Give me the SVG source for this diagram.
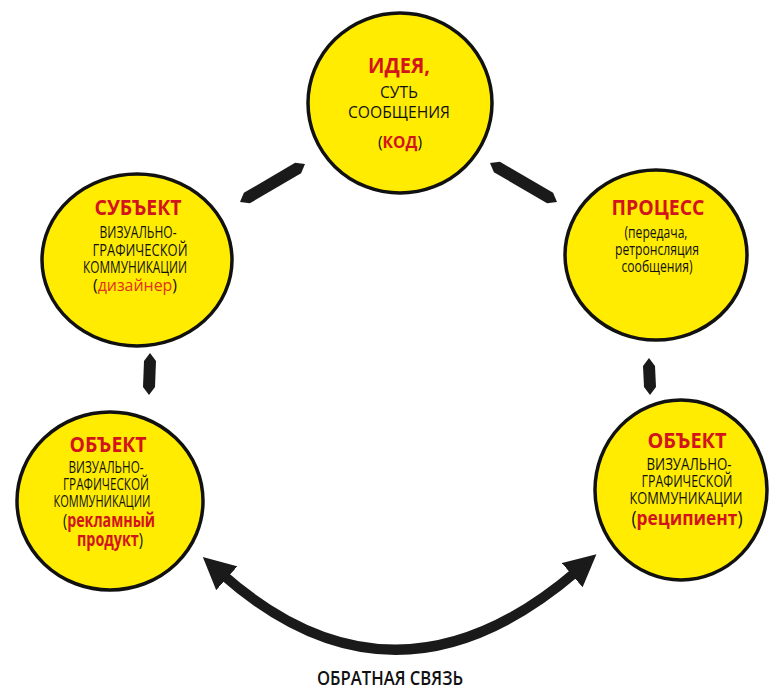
<svg xmlns="http://www.w3.org/2000/svg" width="771" height="692" viewBox="0 0 771 692">
<defs>
<style>
.c{fill:#FFEC00;stroke:#111;stroke-width:3.5}
.t{font-family:"Open Sans","Liberation Sans",sans-serif;text-anchor:middle;fill:#111}
.h{font-weight:bold;fill:#D2141C;font-size:21px}
.b{font-size:15.5px}
.r{fill:#D2141C;font-weight:bold}
.r2{fill:#E0321E}
.bar{fill:#1a1a1a}
</style>
<marker id="ah" viewBox="0 0 10 10" refX="2" refY="5" markerWidth="3.2" markerHeight="3.2" orient="auto-start-reverse">
<path d="M0,0 L10,5 L0,10 z" fill="#1a1a1a"/>
</marker>
</defs>
<rect width="771" height="692" fill="#fff"/>
<g id="connectors">
<polygon class="bar" points="240,202 249.9,203.2 301.1,173.2 305,164 295.1,162.8 243.9,192.8"/>
<polygon class="bar" points="490,163 493.9,172.2 547.1,203.2 557,202 553.1,192.8 499.9,161.8"/>
<polygon class="bar" points="150,353 156,361 155,387 149,395 143,387 144,361"/>
<polygon class="bar" points="649,358 655,366 656,387 650,395 644,387 643,366"/>
<path d="M222,574 Q395,727 577,571" fill="none" stroke="#1a1a1a" stroke-width="10" marker-start="url(#ah)" marker-end="url(#ah)"/>
</g>
<g id="idea">
<ellipse class="c" cx="400" cy="103" rx="92" ry="90"/>
<text class="t h" x="399" y="73" textLength="62" lengthAdjust="spacingAndGlyphs">ИДЕЯ,</text>
<text class="t b" x="399" y="98" textLength="38" lengthAdjust="spacingAndGlyphs">СУТЬ</text>
<text class="t b" x="399" y="118" textLength="102" lengthAdjust="spacingAndGlyphs">СООБЩЕНИЯ</text>
<text class="t b" x="400" y="148" textLength="44" lengthAdjust="spacingAndGlyphs">(<tspan class="r">КОД</tspan>)</text>
</g>
<g id="subject">
<ellipse class="c" cx="137" cy="260" rx="95" ry="86"/>
<text class="t h" x="138" y="215" textLength="87" lengthAdjust="spacingAndGlyphs">СУБЪЕКТ</text>
<text class="t b" x="138" y="238" textLength="77" lengthAdjust="spacingAndGlyphs">ВИЗУАЛЬНО-</text>
<text class="t b" x="140" y="256" textLength="95" lengthAdjust="spacingAndGlyphs">ГРАФИЧЕСКОЙ</text>
<text class="t b" x="135" y="273" textLength="104" lengthAdjust="spacingAndGlyphs">КОММУНИКАЦИИ</text>
<text class="t b" x="135" y="291" textLength="84" lengthAdjust="spacingAndGlyphs">(<tspan class="r2">дизайнер</tspan>)</text>
</g>
<g id="process">
<ellipse class="c" cx="656" cy="255" rx="91" ry="85"/>
<text class="t h" x="658" y="215" textLength="93" lengthAdjust="spacingAndGlyphs">ПРОЦЕСС</text>
<text class="t b" x="656" y="238" textLength="63" lengthAdjust="spacingAndGlyphs">(передача,</text>
<text class="t b" x="657" y="255" textLength="84" lengthAdjust="spacingAndGlyphs">ретронсляция</text>
<text class="t b" x="657" y="272" textLength="71" lengthAdjust="spacingAndGlyphs">сообщения)</text>
</g>
<g id="object-product">
<ellipse class="c" cx="110" cy="501" rx="93" ry="89"/>
<text class="t h" x="108" y="452" textLength="77" lengthAdjust="spacingAndGlyphs">ОБЪЕКТ</text>
<text class="t b" x="106" y="473" textLength="75" lengthAdjust="spacingAndGlyphs">ВИЗУАЛЬНО-</text>
<text class="t b" x="106" y="490" textLength="86" lengthAdjust="spacingAndGlyphs">ГРАФИЧЕСКОЙ</text>
<text class="t b" x="102" y="507" textLength="97" lengthAdjust="spacingAndGlyphs">КОММУНИКАЦИИ</text>
<text class="t" x="109" y="527" font-size="19" textLength="92" lengthAdjust="spacingAndGlyphs">(<tspan class="r">рекламный</tspan></text>
<text class="t" x="110" y="546" font-size="19" textLength="66" lengthAdjust="spacingAndGlyphs"><tspan class="r">продукт</tspan>)</text>
</g>
<g id="object-recipient">
<ellipse class="c" cx="681" cy="490" rx="86" ry="90"/>
<text class="t h" x="687" y="448" textLength="79" lengthAdjust="spacingAndGlyphs">ОБЪЕКТ</text>
<text class="t b" x="689" y="470" textLength="85" lengthAdjust="spacingAndGlyphs">ВИЗУАЛЬНО-</text>
<text class="t b" x="687" y="487" textLength="91" lengthAdjust="spacingAndGlyphs">ГРАФИЧЕСКОЙ</text>
<text class="t b" x="686" y="504" textLength="113" lengthAdjust="spacingAndGlyphs">КОММУНИКАЦИИ</text>
<text class="t" x="687" y="525" font-size="20" textLength="111" lengthAdjust="spacingAndGlyphs">(<tspan class="r">реципиент</tspan>)</text>
</g>
<text class="t" x="390" y="685" font-size="20" font-weight="600" textLength="146" lengthAdjust="spacingAndGlyphs">ОБРАТНАЯ СВЯЗЬ</text>
</svg>
